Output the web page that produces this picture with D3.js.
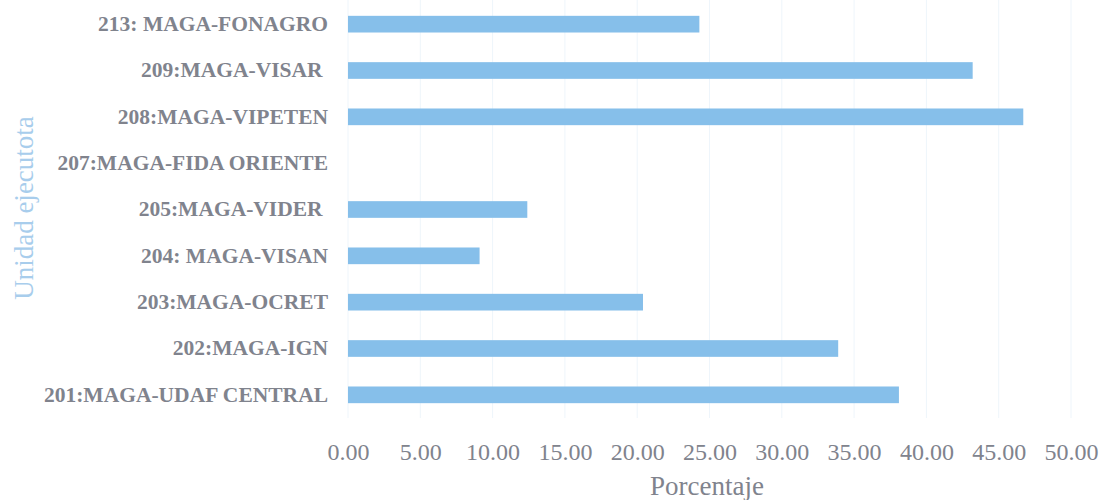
<!DOCTYPE html>
<html>
<head>
<meta charset="utf-8">
<script src="https://cdn.jsdelivr.net/npm/d3@7"></script>
<style>
  body { margin: 0; background: #fff; }
  text { white-space: pre; }
</style>
</head>
<body>
<div id="chartMain"></div>
<script>
const categories = [
  "213: MAGA-FONAGRO",
  "209:MAGA-VISAR ",
  "208:MAGA-VIPETEN",
  "207:MAGA-FIDA ORIENTE",
  "205:MAGA-VIDER ",
  "204: MAGA-VISAN",
  "203:MAGA-OCRET",
  "202:MAGA-IGN",
  "201:MAGA-UDAF CENTRAL"
];
const values = [24.3, 43.2, 46.7, 0, 12.4, 9.1, 20.4, 33.9, 38.1];
const tickValues = [0, 5, 10, 15, 20, 25, 30, 35, 40, 45, 50];

const width = 1102, height = 500;
const serif = "'Liberation Serif', 'DejaVu Serif', serif";

const svg = d3.select('#chartMain')
  .append('svg')
  .attr('width', width)
  .attr('height', height);

// escalas
const x = d3.scaleLinear().domain([0, 50]).range([348, 1071]);
const y = d3.scaleBand()
  .domain(categories)
  .range([1, 418])
  .paddingInner(0.64)
  .paddingOuter(0.32);

// rejilla vertical muy tenue
svg.append('g')
  .selectAll('line')
  .data(tickValues)
  .join('line')
  .attr('x1', d => x(d)).attr('x2', d => x(d))
  .attr('y1', 0).attr('y2', 418)
  .attr('stroke', '#eef5fb')
  .attr('stroke-width', 1);

// barras
svg.append('g')
  .selectAll('rect')
  .data(values)
  .join('rect')
  .attr('x', x(0))
  .attr('y', (d, i) => y(categories[i]))
  .attr('width', d => x(d) - x(0))
  .attr('height', y.bandwidth())
  .attr('fill', '#86bfea');

// eje y (etiquetas)
const yAxis = svg.append('g')
  .attr('transform', `translate(${x(0) - 2},0)`)
  .call(d3.axisLeft(y).tickSize(0).tickPadding(18));
yAxis.select('.domain').remove();
yAxis.selectAll('text')
  .attr('font-family', serif)
  .attr('font-weight', 'bold')
  .attr('font-size', 21.5)
  .attr('fill', '#80838d');

// eje x
const xAxis = svg.append('g')
  .attr('transform', 'translate(0,443)')
  .call(d3.axisBottom(x).tickValues(tickValues).tickFormat(d3.format('.2f')).tickSize(0).tickPadding(0));
xAxis.select('.domain').remove();
xAxis.selectAll('text')
  .attr('font-family', serif)
  .attr('font-size', 24)
  .attr('fill', '#80838d');

// títulos
svg.append('text')
  .attr('x', 707)
  .attr('y', 495)
  .attr('text-anchor', 'middle')
  .attr('font-family', serif)
  .attr('font-size', 27)
  .attr('fill', '#80838d')
  .text('Porcentaje');

svg.append('text')
  .attr('transform', 'translate(33,208) rotate(-90)')
  .attr('text-anchor', 'middle')
  .attr('font-family', serif)
  .attr('font-size', 27)
  .attr('fill', '#a8cdec')
  .text('Unidad ejecutota');
</script>
</body>
</html>
